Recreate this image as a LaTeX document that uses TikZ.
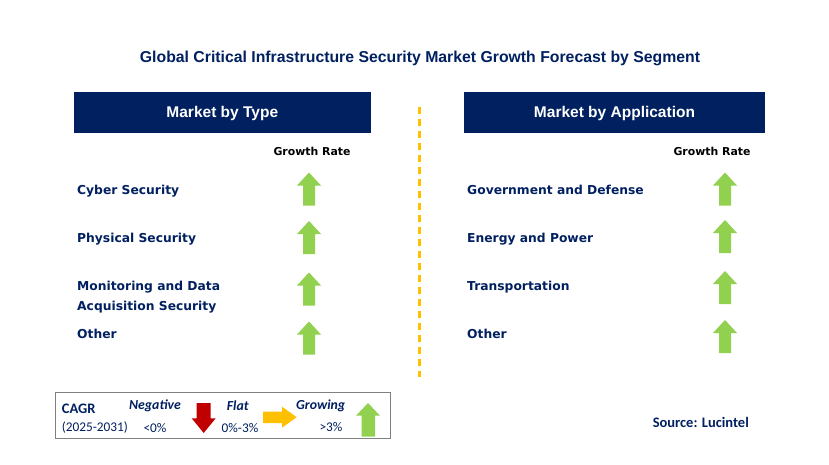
\documentclass[tikz,border=0pt]{standalone}
\usepackage{fontspec}
\setmainfont{Liberation Sans}
\newfontfamily\dvs{DejaVu Sans}
\newfontfamily\carl{Carlito}
\definecolor{navy}{HTML}{002060}
\definecolor{grn}{HTML}{92D050}
\definecolor{rd}{HTML}{C00000}
\definecolor{yl}{HTML}{FFC000}
\definecolor{bordergray}{HTML}{808080}
\tikzset{
  titletext/.style={font=\bfseries\fontsize{15.8}{19}\selectfont, text=navy, inner sep=0, anchor=base},
  hdr/.style={fill=navy, minimum width=297pt, minimum height=41pt, inner sep=0},
  hdrtext/.style={text=white, font=\bfseries\fontsize{15.5}{18}\selectfont, inner sep=0, anchor=base},
  lbl/.style={anchor=base west, text=navy, font=\dvs\bfseries\fontsize{12.3}{20}\selectfont, inner sep=0},
  grate/.style={font=\dvs\bfseries\fontsize{10.9}{13}\selectfont, inner sep=0, anchor=base},
  legb/.style={text=navy, font=\carl\bfseries\fontsize{14.5}{16}\selectfont, inner sep=0},
  legr/.style={text=navy, font=\carl\fontsize{13.3}{15}\selectfont, inner sep=0},
  legbi/.style={text=navy, font=\carl\bfseries\itshape\fontsize{13.8}{15}\selectfont, inner sep=0},
}
\newcommand\GreenUp[2]{% center x, top y
  \fill[grn] (#1-6,#2+33) -- (#1+6,#2+33) -- (#1+6,#2+13) -- (#1+12,#2+13) -- (#1,#2) -- (#1-12,#2+13) -- (#1-6,#2+13) -- cycle;}
\begin{document}
\begin{tikzpicture}[x=1pt,y=-1pt]
\useasboundingbox (0,0) rectangle (829,465);
\fill[white] (0,0) rectangle (829,465);
% title
\node[titletext] (title) at (420,63) {Global Critical Infrastructure Security Market Growth Forecast by Segment};
% headers
\node[hdr] (h1) at (222.3,112.2) {};
\node[hdr, minimum width=301pt] (h2) at (614.5,112.2) {};
\node[hdrtext] (h1t) at (222.3,118) {Market by Type};
\node[hdrtext] (h2t) at (614.5,118) {Market by Application};
% growth rate
\node[grate] (g1) at (312,156) {Growth Rate};
\node[grate] (g2) at (712,156) {Growth Rate};
% left labels
\node[lbl] (l1) at (77,194.5) {Cyber Security};
\node[lbl] (l2) at (77,242.5) {Physical Security};
\node[lbl] (l3a) at (77,290.5) {Monitoring and Data};
\node[lbl] (l3b) at (77,310.5) {Acquisition Security};
\node[lbl] (l4) at (77,338.5) {Other};
% right labels
\node[lbl] (r1) at (467,194.5) {Government and Defense};
\node[lbl] (r2) at (467,242.5) {Energy and Power};
\node[lbl] (r3) at (467,290.5) {Transportation};
\node[lbl] (r4) at (467,338.5) {Other};
% arrows
\GreenUp{309}{172.5}
\GreenUp{309}{221}
\GreenUp{309}{272.5}
\GreenUp{309}{321.5}
\GreenUp{725}{172.5}
\GreenUp{725}{220}
\GreenUp{725}{271}
\GreenUp{725}{320}
% divider
\coordinate (dtop) at (419.5,106.7);
\coordinate (dbot) at (419.5,376.7);
\draw[yl, line width=2.2pt, dash pattern=on 7.7pt off 4.3pt] (dtop) -- (dbot);
% legend
\draw[bordergray, line width=1pt] (55,392.3) rectangle (390,438.3);
\node[legb, anchor=west] (cagr) at (61.7,408.5) {CAGR};
\node[legr, anchor=west] (yrs) at (61.7,427.5) {(2025-2031)};
\node[legbi] (neg) at (155,406) {Negative};
\node[legr] (negv) at (155,428) {<0\%};
\fill[rd] (196.7,403) -- (210.7,403) -- (210.7,418.3) -- (215.7,418.3) -- (203.7,433) -- (191.7,418.3) -- (196.7,418.3) -- cycle;
\node[legbi] (flat) at (237.7,406) {Flat};
\node[legr] (flatv) at (240,428.5) {0\%-3\%};
\fill[yl] (263,411.5) -- (282,411.5) -- (282,406.7) -- (296.7,417.2) -- (282,427.7) -- (282,423) -- (263,423) -- cycle;
\node[legbi] (grow) at (320.7,406) {Growing};
\node[legr] (growv) at (331,427) {>3\%};
\fill[grn] (361.7,436.7) -- (375,436.7) -- (375,415.7) -- (380,415.7) -- (368,403) -- (356,415.7) -- (361.7,415.7) -- cycle;
% source
\node[legb, anchor=east, font=\carl\bfseries\fontsize{14.5}{16}\selectfont] (src) at (749,422.5) {Source: Lucintel};
\end{tikzpicture}
\end{document}
